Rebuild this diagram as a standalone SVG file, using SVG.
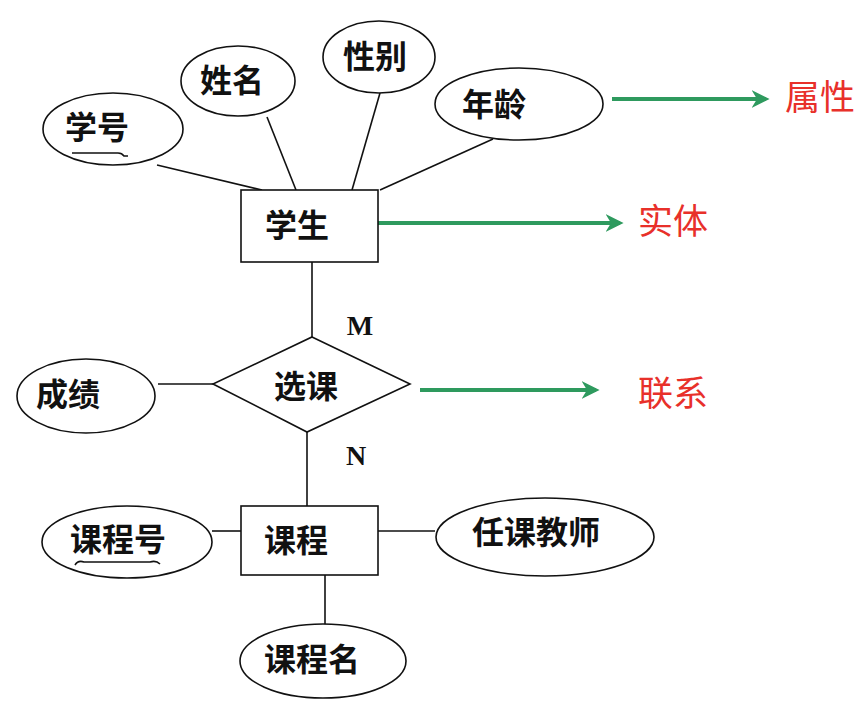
<svg xmlns="http://www.w3.org/2000/svg" width="868" height="713" viewBox="0 0 868 713">
<style>
.sh{fill:#fff;stroke:#111;stroke-width:1.6}
.ln{stroke:#111;stroke-width:1.6;fill:none}
.t{font-family:"Noto Sans CJK SC","Liberation Sans",sans-serif;font-weight:700;font-size:32px;fill:#111;text-anchor:middle}
.r{font-family:"Noto Sans CJK SC","Liberation Sans",sans-serif;font-weight:400;font-size:35px;fill:#e8302a;text-anchor:middle}
.mn{font-family:"Liberation Serif",serif;font-weight:700;font-size:28px;fill:#111;text-anchor:middle}
.g{stroke:#2e9a5e;stroke-width:4;fill:none}
</style>
<defs>
<marker id="ah" viewBox="0 0 10 10" refX="8" refY="5" markerWidth="4.5" markerHeight="4.5" orient="auto" markerUnits="strokeWidth">
<path d="M0,0 L10,5 L0,10 L3,5 Z" fill="#2e9a5e"/>
</marker>
</defs>
<rect width="868" height="713" fill="#fff"/>
<g id="connectors">
<line class="ln" x1="157" y1="165" x2="262" y2="190"/>
<line class="ln" x1="267" y1="117" x2="296" y2="190"/>
<line class="ln" x1="380" y1="93" x2="352" y2="190"/>
<line class="ln" x1="493" y1="139" x2="380" y2="190"/>
<line class="ln" x1="312" y1="262" x2="312" y2="337"/>
<line class="ln" x1="158" y1="384" x2="213" y2="384"/>
<line class="ln" x1="307" y1="432" x2="307" y2="506"/>
<line class="ln" x1="212" y1="531" x2="241" y2="531"/>
<line class="ln" x1="378" y1="531" x2="435" y2="531"/>
<line class="ln" x1="325" y1="575" x2="325" y2="625"/>
<line class="g" x1="612" y1="99" x2="766" y2="99" marker-end="url(#ah)"/>
<line class="g" x1="378" y1="223" x2="620" y2="223" marker-end="url(#ah)"/>
<line class="g" x1="420" y1="390" x2="596" y2="390" marker-end="url(#ah)"/>
<text class="mn" x="360" y="335">M</text>
<text class="mn" x="356" y="465">N</text>
</g>
<g id="xuehao">
<ellipse class="sh" cx="113" cy="129" rx="70" ry="36"/>
<text class="t" x="97" y="139">学号</text>
<path class="ln" d="M72,153 L118,153 Q122,153 124,156 L128,156"/>
</g>
<g id="xingming">
<ellipse class="sh" cx="238" cy="81" rx="57" ry="35"/>
<text class="t" x="232" y="92">姓名</text>
</g>
<g id="xingbie">
<ellipse class="sh" cx="379" cy="57" rx="56" ry="36"/>
<text class="t" x="375" y="68">性别</text>
</g>
<g id="nianling">
<ellipse class="sh" cx="519" cy="104" rx="84" ry="36"/>
<text class="t" x="494" y="116">年龄</text>
</g>
<g id="xuesheng">
<rect class="sh" x="241" y="190" width="137" height="72"/>
<text class="t" x="297" y="237">学生</text>
</g>
<g id="xuanke">
<polygon class="sh" points="312,337 410,384 307,432 213,384"/>
<text class="t" x="306" y="398">选课</text>
</g>
<g id="chengji">
<ellipse class="sh" cx="86" cy="396" rx="69" ry="37"/>
<text class="t" x="68" y="406">成绩</text>
</g>
<g id="kecheng">
<rect class="sh" x="241" y="506" width="137" height="69"/>
<text class="t" x="296" y="552">课程</text>
</g>
<g id="kechenghao">
<ellipse class="sh" cx="127" cy="542" rx="85" ry="36"/>
<text class="t" x="118" y="551">课程号</text>
<path class="ln" d="M75,565 Q78,560 84,562 L150,562 Q156,560 160,564"/>
</g>
<g id="renkejiaoshi">
<ellipse class="sh" cx="545" cy="537" rx="109" ry="39"/>
<text class="t" x="536" y="544">任课教师</text>
</g>
<g id="kechengming">
<ellipse class="sh" cx="323" cy="661" rx="83" ry="37"/>
<text class="t" x="312" y="671">课程名</text>
</g>
<g id="labels">
<text class="r" x="820" y="110">属性</text>
<text class="r" x="673" y="234">实体</text>
<text class="r" x="673" y="406">联系</text>
</g>
</svg>
